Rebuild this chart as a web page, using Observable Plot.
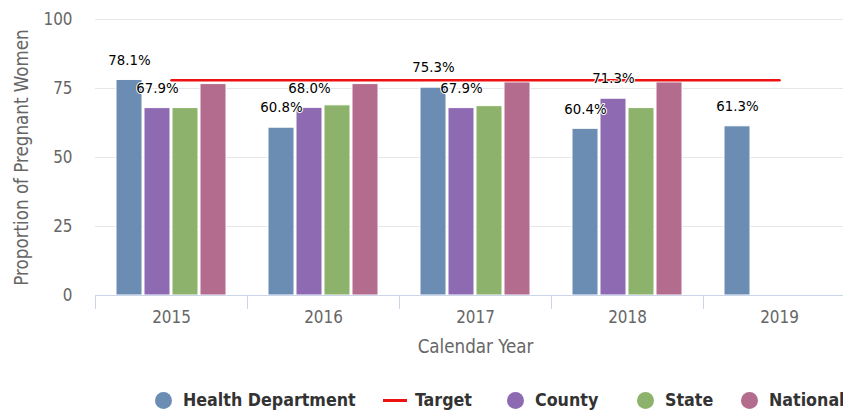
<!DOCTYPE html>
<html>
<head>
<meta charset="utf-8">
<script src="https://cdn.jsdelivr.net/npm/d3@7"></script>
<script src="https://cdn.jsdelivr.net/npm/@observablehq/plot@0.6"></script>
<style>
  html, body { margin: 0; padding: 0; background: #fff; overflow: hidden; width: 843px; height: 411px; }
  #chart { position: absolute; left: 0; top: 0; }
  #chart svg { max-width: none !important; }
  .legend { position: absolute; top: 390px; left: 0; height: 20px; width: 900px;
            font-family: "DejaVu Sans Condensed", "DejaVu Sans", sans-serif; font-stretch: condensed;
            font-weight: bold; font-size: 17.7px; color: #333; }
  .item { position: absolute; top: 0; height: 20px; display: flex; align-items: center; white-space: nowrap; }
  .dot { width: 17px; height: 17px; border-radius: 50%; margin-right: 11px; flex: none; }
  .line { width: 24px; height: 3px; margin-right: 8px; flex: none; }
</style>
</head>
<body>
<div id="chart"></div>
<div class="legend" id="legend"></div>
<script>
// ---- data ----
const years = ["2015", "2016", "2017", "2018", "2019"];
const series = ["Health Department", "County", "State", "National"];
const healthDept = [78.1, 60.8, 75.3, 60.4, 61.3];
const county     = [67.9, 68.0, 67.9, 71.3, null];
const state      = [67.9, 68.9, 68.6, 67.9, null];
const national   = [76.6, 76.6, 77.2, 77.2, null];
const target     = [78.0, 78.0, 78.0, 78.0, 78.0];
const labelledSeries = ["Health Department", "County"];
const yTicks = [0, 25, 50, 75, 100];
const colors = ["#6b8db4", "#8e6ab3", "#8db26b", "#b36b8e"];
const targetColor = "#ee1111";

// ---- layout ----
const W = 855, H = 370, ML = 95, MR = 0, MT = 19, MB = 75;
const band = (W - ML - MR) / years.length;
const barW = 26, gap = 2;
const outer = (band - series.length * barW - (series.length - 1) * gap) / 2;
const barLeft = i => outer + i * (barW + gap);

const valuesBySeries = [healthDept, county, state, national];
const rows = [];
series.forEach((s, i) => years.forEach((y, j) => {
  const v = valuesBySeries[i][j];
  if (v != null) rows.push({year: y, series: s, value: v});
}));
const targetRows = years.map((y, j) => ({year: y, value: target[j]}));

const marks = [
  Plot.ruleY(yTicks.filter(t => t > 0), {stroke: "#e6e6e6", strokeWidth: 1}),
  ...series.map((s, i) => Plot.barY(rows.filter(r => r.series === s), {
    x: "year", y: "value", fill: colors[i], stroke: "#fff", strokeWidth: 1,
    insetLeft: barLeft(i), insetRight: band - barLeft(i) - barW
  })),
  Plot.ruleY([0], {stroke: "#ccd6eb", strokeWidth: 1}),
  Plot.ruleX(years, {x: d => d, y1: 0, y2: 0, insetBottom: -14, dx: -band / 2, stroke: "#ccd6eb"}),
  Plot.lineY(targetRows, {x: "year", y: "value", stroke: targetColor, strokeWidth: 2.5}),
  ...labelledSeries.map(s => {
    const i = series.indexOf(s);
    return Plot.text(rows.filter(r => r.series === s), {
      x: "year", y: "value", text: d => d.value.toFixed(1) + "%",
      dx: barLeft(i) + barW / 2 - band / 2, dy: -20, lineAnchor: "middle",
      fontSize: 14.8, fill: "#000", stroke: "#fff", strokeWidth: 2
    });
  }),
  Plot.axisY({ticks: yTicks, tickSize: 0, tickPadding: 23, fontSize: 16.9, fill: "#666", label: null}),
  Plot.axisX({tickSize: 0, tickPadding: 15, fontSize: 16.9, fill: "#666", label: null}),
  Plot.text(["Proportion of Pregnant Women"], {
    frameAnchor: "left", rotate: -90, dx: -73, textAnchor: "middle", lineAnchor: "middle",
    fontSize: 18.6, fill: "#666"
  }),
  Plot.text(["Calendar Year"], {
    frameAnchor: "bottom", dy: 52, textAnchor: "middle", lineAnchor: "middle",
    fontSize: 18.6, fill: "#666"
  })
];

const chart = Plot.plot({
  width: W, height: H,
  marginLeft: ML, marginRight: MR, marginTop: MT, marginBottom: MB,
  style: {fontFamily: "'DejaVu Sans Condensed', 'DejaVu Sans', sans-serif", fontStretch: "condensed", background: "#fff"},
  x: {domain: years, type: "band", padding: 0},
  y: {domain: [0, 100]},
  marks
});
document.getElementById("chart").appendChild(chart);

// ---- legend ----
const legendItems = [
  {label: "Health Department", kind: "dot", color: colors[0], left: 155},
  {label: "Target", kind: "line", color: targetColor, left: 383},
  {label: "County", kind: "dot", color: colors[1], left: 507},
  {label: "State", kind: "dot", color: colors[2], left: 637},
  {label: "National", kind: "dot", color: colors[3], left: 741}
];
const legend = document.getElementById("legend");
legendItems.forEach(it => {
  const el = document.createElement("div");
  el.className = "item";
  el.style.left = it.left + "px";
  const sym = document.createElement("span");
  sym.className = it.kind;
  sym.style.background = it.color;
  const txt = document.createElement("span");
  txt.textContent = it.label;
  el.appendChild(sym); el.appendChild(txt);
  legend.appendChild(el);
});
</script>
</body>
</html>
